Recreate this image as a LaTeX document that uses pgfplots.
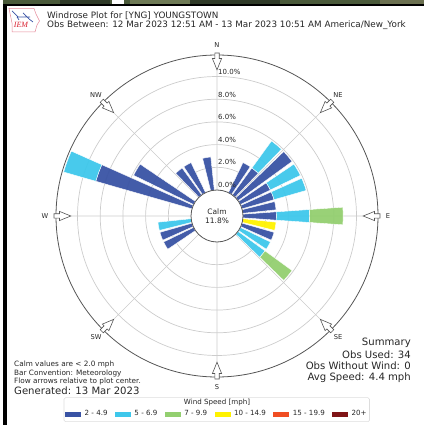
\documentclass[border=0pt]{standalone}
\usepackage{fontspec}
\setmainfont{DejaVu Sans}
\newfontfamily\logofont{Liberation Serif}
\usepackage{pgfplots}
\usepgfplotslibrary{polar}
\pgfplotsset{compat=1.18}
\definecolor{cA}{HTML}{3953A4}
\definecolor{cB}{HTML}{3EC7EB}
\definecolor{cC}{HTML}{93CF70}
\definecolor{cD}{HTML}{FFF200}
\definecolor{cE}{HTML}{F04E23}
\definecolor{cF}{HTML}{7F1416}
\definecolor{gridc}{HTML}{CCCCCC}
\definecolor{rimc}{HTML}{555555}
\definecolor{txt}{HTML}{262626}
\definecolor{satA}{HTML}{4A5A3A}
\definecolor{satB}{HTML}{2F3A28}
\definecolor{satC}{HTML}{6E7A55}
\definecolor{satD}{HTML}{6B7050}
\definecolor{legfr}{HTML}{DDDDDD}
\definecolor{logoP}{HTML}{E58A9A}
\definecolor{logoR}{HTML}{D9202F}
% #1 compass direction, #2 low percent, #3 high percent, #4 colour
\newcommand\windbar[4]{%
  \addplot[forget plot,fill=#4,fill opacity=.95,draw=white,line width=.4pt]
    table[row sep=\\,x expr={90-(#1)+\thisrow{o}},y expr={2.29+(#2)+((#3)-(#2))*\thisrow{s}}]
    {o s\\ -4 0\\ 0 0\\ 4 0\\ 4 1\\ 2 1\\ 0 1\\ -2 1\\ -4 1\\ -4 0\\};}
\newcommand\windarrow[1]{%
  \begin{scope}[shift={(axis cs:#1,14.185)},rotate=#1]
    \draw[rimc,fill=white,line width=.6pt] (2pt,-2.2pt)--(-3.5pt,-2.2pt)--(-3.5pt,-4.6pt)--(-14.8pt,0pt)--(-3.5pt,4.6pt)--(-3.5pt,2.2pt)--(2pt,2.2pt)--cycle;
  \end{scope}}
\begin{document}
\begin{tikzpicture}[x=1pt,y=1pt]
\path (0,0) rectangle (424,425);
% frame of the screenshot
\fill[black] (3,0) rectangle (7,425);
\fill[black] (3,419) rectangle (424,421);
\fill[satA] (3,421) rectangle (424,425);
\fill[satB] (60,421) rectangle (110,425);
\fill[white] (112,421) rectangle (124,425);
\fill[satC] (130,421) rectangle (190,425);
\fill[satB] (190,421) rectangle (280,425);
\fill[satD] (380,421) rectangle (424,425);
%
\begin{polaraxis}[
  scale only axis,width=322pt,height=322pt,
  at={(217pt,209pt)},anchor=center,
  xmin=0,xmax=360,ymin=0,ymax=14.185,
  xtick={0,45,...,315},
  ytick={4.29,6.29,8.29,10.29,12.29},
  xticklabels={},yticklabels={},
  major tick length=0pt,
  grid=major,
  major grid style={draw=gridc,line width=.7pt},
  x axis line style={draw=rimc,line width=.8pt},
  y axis line style={draw=none},
  clip=false,
  legend columns=6,
  legend style={draw=none,fill=none,at={(0.5,-0.1149)},anchor=center,
    font=\fontsize{7.1}{8}\selectfont\color{txt},inner sep=0pt,
    /tikz/every odd column/.append style={column sep=2pt},
    /tikz/every even column/.append style={column sep=5.5pt}},
  legend cell align=left,
  legend image code/.code={\fill[#1] (0pt,-2.2pt) rectangle (15pt,2.2pt);},
]
\windbar{350}{0}{2.94}{cA}
\windbar{330}{0}{2.94}{cA}
\windbar{320}{0}{2.94}{cA}
\windbar{300}{0}{5.88}{cA}
\windbar{290}{0}{8.82}{cA}
\windbar{290}{8.82}{11.76}{cB}
\windbar{260}{0}{2.94}{cB}
\windbar{250}{0}{2.94}{cA}
\windbar{240}{0}{2.94}{cA}
\windbar{30}{0}{2.94}{cA}
\windbar{40}{0}{2.94}{cA}
\windbar{40}{2.94}{5.88}{cB}
\windbar{50}{0}{5.88}{cA}
\windbar{60}{0}{2.94}{cA}
\windbar{60}{2.94}{5.88}{cB}
\windbar{70}{0}{2.94}{cA}
\windbar{70}{2.94}{5.88}{cB}
\windbar{80}{0}{2.94}{cA}
\windbar{90}{0}{2.94}{cA}
\windbar{90}{2.94}{5.88}{cB}
\windbar{90}{5.88}{8.82}{cC}
\windbar{100}{0}{2.94}{cD}
\windbar{110}{0}{2.94}{cA}
\windbar{120}{0}{2.94}{cB}
\windbar{130}{0}{2.94}{cB}
\windbar{130}{2.94}{5.88}{cC}
\addlegendimage{cA}\addlegendentry{2 - 4.9}
\addlegendimage{cB}\addlegendentry{5 - 6.9}
\addlegendimage{cC}\addlegendentry{7 - 9.9}
\addlegendimage{cD}\addlegendentry{10 - 14.9}
\addlegendimage{cE}\addlegendentry{15 - 19.9}
\addlegendimage{cF}\addlegendentry{20+}
\draw[rimc,fill=white,line width=.8pt] (axis cs:0,0) circle[radius=26pt];
\windarrow{0}\windarrow{45}\windarrow{90}\windarrow{135}
\windarrow{180}\windarrow{225}\windarrow{270}\windarrow{315}
\end{polaraxis}
% texts: coordinates in pixels, y counted up
\tikzset{t/.style={inner sep=0pt,text=txt,font=\fontsize{#1}{#1}\selectfont}}
\node[t=8.8,anchor=west] at (47,409.5) {Windrose Plot for [YNG] YOUNGSTOWN};
\node[t=8.8,anchor=west] at (47,400) {Obs Between: 12 Mar 2023 12:51 AM - 13 Mar 2023 10:51 AM America/New\_York};
\foreach \l/\x/\y in {N/217/380,NE/338/330,E/388/209,SE/338/88,S/217/38,SW/96/88,W/45/209,NW/96/330}
  \node[t=6.7] at (\x,\y) {\l};
\foreach \l/\y in {0.0/240,2.0/263,4.0/285.5,6.0/308,8.0/330.5,10.0/353.5}
  \node[t=7,anchor=west] at (218,\y) {\l\%};
\node[t=7.5] at (217,213) {Calm};
\node[t=7.5] at (217,204.7) {11.8\%};
\node[t=7.3,anchor=west] at (14,60.3) {Calm values are < 2.0 mph};
\node[t=7.3,anchor=west] at (14,52) {Bar Convention: Meteorology};
\node[t=7.3,anchor=west] at (14,43.3) {Flow arrows relative to plot center.};
\node[t=10.1,anchor=west] at (14,34.3) {Generated: 13 Mar 2023};
\node[t=10.1,anchor=east] at (411,82) {Summary};
\node[t=10.1,anchor=east] at (411,70.3) {Obs Used: 34};
\node[t=10.1,anchor=east] at (411,59) {Obs Without Wind: 0};
\node[t=10.1,anchor=east] at (411,47.5) {Avg Speed: 4.4 mph};
% legend frame and title
\draw[legfr,line width=.6pt,rounded corners=1.5pt] (64,3.3) rectangle (369.5,27.3);
\node[t=7.1] at (217,22) {Wind Speed [mph]};
% IEM logo
\draw[logoP,line width=.5pt] (9,416.5)--(34,416.5)--(36,411)--(39.5,404)--(37,400)--(35,393)--(12,393)--(12,402)--cycle;
\draw[cA,line width=.7pt] (12,414)--(18,408)--(30,408) (23,412)--(29,406)--(33,403) (17,408)--(19,405);
\node[inner sep=0pt,text=logoR,font=\logofont\itshape\fontsize{8}{8}\selectfont] at (21,400) {IEM};
\end{tikzpicture}
\end{document}
